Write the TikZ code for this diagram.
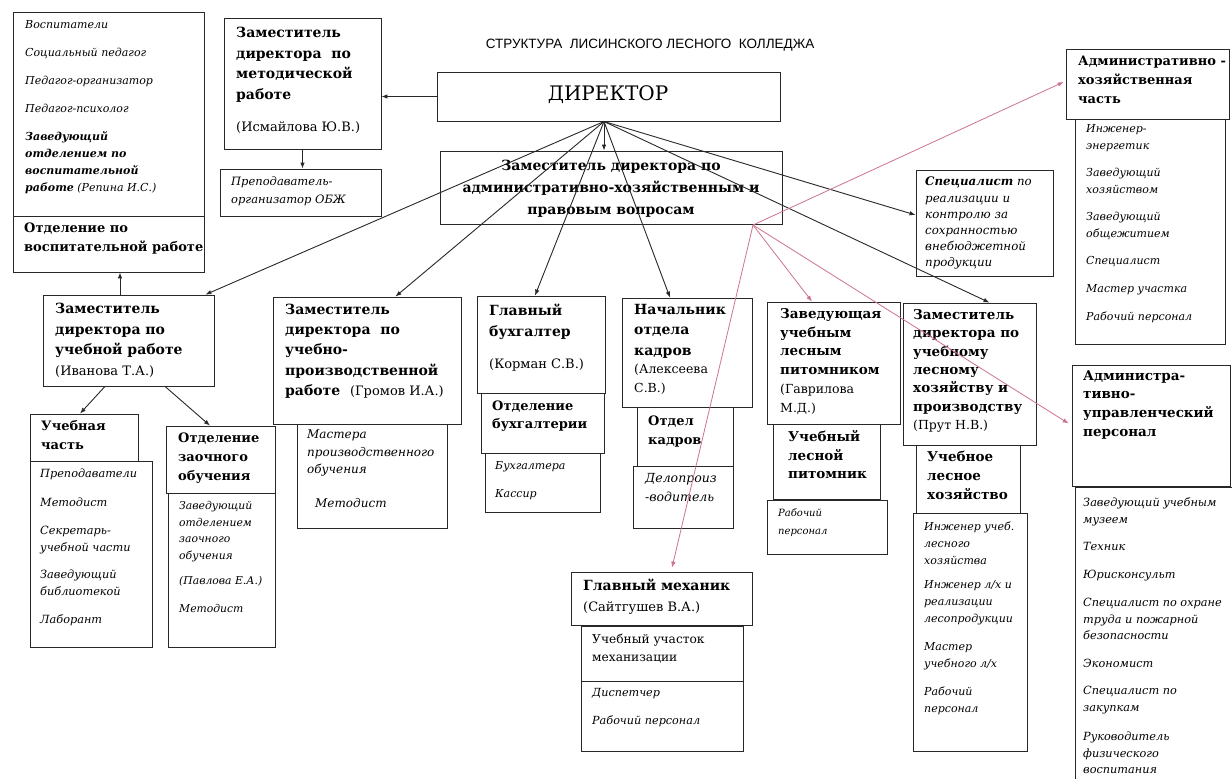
\documentclass[tikz,border=0pt]{standalone}
\usepackage{fontspec}
\setmainfont{DejaVu Serif}
\newfontfamily\ttlfont{Liberation Sans}
\usetikzlibrary{arrows.meta,calc,fit}
\definecolor{ln}{RGB}{40,40,40}
\definecolor{pk}{RGB}{205,115,140}
\newcommand\nmtext[1]{{\fontsize{13}{20}\selectfont\mdseries #1}}
\newcommand\nmsmall[1]{{\fontsize{12.5}{18.5}\selectfont\mdseries #1}}
\begin{document}
\begin{tikzpicture}[x=1pt,y=-1pt,
  box/.style={draw=ln, line width=0.8pt, fill=white, inner sep=0pt},
  tx/.style={anchor=north west, align=left, inner sep=0pt},
  hb/.style={font=\fontsize{14}{20.5}\selectfont\bfseries},
  hbs/.style={font=\fontsize{13.5}{18.8}\selectfont\bfseries},
  hbm/.style={font=\fontsize{13}{19}\selectfont\bfseries},
  it/.style={font=\fontsize{11}{17}\selectfont\itshape},
  arr/.style={draw=ln, line width=0.9pt, -{Latex[length=6pt,width=4.5pt]}},
  parr/.style={draw=pk, line width=0.8pt, -{Latex[length=6pt,width=4.5pt]}}]
\useasboundingbox[fill=white] (0,0) rectangle (1232,779);

% title
\node[font=\ttlfont\fontsize{13.5}{16}\selectfont, inner sep=0pt] (title) at (650,45) {СТРУКТУРА\ \ ЛИСИНСКОГО ЛЕСНОГО\ \ КОЛЛЕДЖА};

% left top
\node[box, fit={(13,12)(204,216)}] (vosp) {};
\node[tx, it] (vosp_t) at (25,20.5) {Воспитатели\\[11pt]Социальный педагог\\[11pt]Педагог-организатор\\[11pt]Педагог-психолог\\[11pt]\textbf{Заведующий}\\\textbf{отделением по}\\\textbf{воспитательной}\\\textbf{работе} (Репина И.С.)};
\node[box, fit={(13,216)(204,272)}] (vosp_dept) {};
\node[tx, hbm] (vosp_dept_t) at (24,222.5) {Отделение по\\воспитательной работе};

% methodical deputy
\node[box, fit={(224,18)(381,149)}] (metod) {};
\node[tx, hb] (metod_t) at (236,27) {Заместитель\\директора\ \ по\\методической\\работе\\[12pt]\nmtext{(Исмайлова Ю.В.)}};
\node[box, fit={(220,169)(381,216)}] (obzh) {};
\node[tx, font=\fontsize{11.5}{18}\selectfont\itshape] (obzh_t) at (231,176.5) {Преподаватель-\\организатор ОБЖ};

% director
\node[box, fit={(437,72)(780,121)}] (director) {};
\node[font=\fontsize{20}{24}\selectfont, inner sep=0pt] (director_t) at (608,95) {ДИРЕКТОР};
\node[box, fit={(440,151)(782,224)}] (admin) {};
\node[align=center, inner sep=0pt, font=\fontsize{14}{22}\selectfont\bfseries] (admin_t) at (611,189) {Заместитель директора по\\административно-хозяйственным и\\правовым вопросам};

% specialist
\node[box, fit={(916,170)(1053,276)}] (spec) {};
\node[tx, font=\fontsize{11.8}{16.2}\selectfont\itshape] (spec_t) at (925,177) {\textbf{Специалист} по\\реализации и\\контролю за\\сохранностью\\внебюджетной\\продукции};

% AHCh
\node[box, fit={(1066,49)(1229,119)}] (ahch) {};
\node[tx, hbm] (ahch_t) at (1078,55.5) {Административно -\\хозяйственная\\часть};
\node[box, fit={(1075,119)(1225,344)}] (ahch_list) {};
\node[tx, font=\fontsize{11}{17}\selectfont\itshape] (ahch_list_t) at (1086,124.5) {Инженер-\\энергетик\\[10pt]Заведующий\\хозяйством\\[10pt]Заведующий\\общежитием\\[10pt]Специалист\\[11pt]Мастер участка\\[11pt]Рабочий персонал};

% Ivanova
\node[box, fit={(43,295)(214,386)}] (ivanova) {};
\node[tx, hb] (ivanova_t) at (55,303) {Заместитель\\директора по\\учебной работе\\\nmtext{(Иванова Т.А.)}};
\node[box, fit={(30,414)(138,461)}] (uch_head) {};
\node[tx, hbm] (uch_head_t) at (41,420.5) {Учебная\\часть};
\node[box, fit={(30,461)(152,647)}] (uch_list) {};
\node[tx, font=\fontsize{11.3}{17}\selectfont\itshape] (uch_list_t) at (40,469) {Преподаватели\\[12pt]Методист\\[11pt]Секретарь-\\учебной части\\[10pt]Заведующий\\библиотекой\\[11pt]Лаборант};
\node[box, fit={(166,426)(275,493)}] (zaoch_head) {};
\node[tx, hbm] (zaoch_head_t) at (178,432.5) {Отделение\\заочного\\обучения};
\node[box, fit={(168,493)(275,647)}] (zaoch_list) {};
\node[tx, font=\fontsize{10.8}{16.5}\selectfont\itshape] (zaoch_list_t) at (179,501.5) {Заведующий\\отделением\\заочного\\обучения\\[9pt](Павлова Е.А.)\\[11pt]Методист};

% Gromov
\node[box, fit={(273,297)(461,424)}] (gromov) {};
\node[tx, font=\fontsize{14}{20.2}\selectfont\bfseries] (gromov_t) at (285,304) {Заместитель\\директора\ \ по\\учебно-\\производственной\\работе\ \ \nmtext{(Громов И.А.)}};
\node[box, fit={(297,424)(447,528)}] (gromov_list) {};
\node[tx, font=\fontsize{12}{17.5}\selectfont\itshape] (gromov_list_t) at (307,430) {Мастера\\производственного\\обучения\\[16pt]\hspace*{8pt}Методист};

% accountant
\node[box, fit={(477,296)(605,393)}] (buh) {};
\node[tx, hb] (buh_t) at (489,304) {Главный\\бухгалтер\\[12pt]\nmtext{(Корман С.В.)}};
\node[box, fit={(481,393)(604,453)}] (buh_dept) {};
\node[tx, font=\fontsize{13}{18}\selectfont\bfseries] (buh_dept_t) at (492,400.5) {Отделение\\бухгалтерии};
\node[box, fit={(485,453)(600,512)}] (buh_list) {};
\node[tx, font=\fontsize{11}{28}\selectfont\itshape] (buh_list_t) at (495,461.5) {Бухгалтера\\Кассир};

% HR
\node[box, fit={(622,298)(752,407)}] (kadry) {};
\node[tx, font=\fontsize{14}{20.5}\selectfont\bfseries] (kadry_t) at (634,304) {Начальник\\отдела\\кадров\\[-2pt]\nmsmall{(Алексеева}\\[-2pt]\nmsmall{С.В.)}};
\node[box, fit={(637,407)(733,466)}] (kadry_dept) {};
\node[tx, hbm] (kadry_dept_t) at (648,415.5) {Отдел\\кадров};
\node[box, fit={(633,466)(733,528)}] (kadry_list) {};
\node[tx, font=\fontsize{12.5}{19}\selectfont\itshape] (kadry_list_t) at (645,473.5) {Делопроиз\\-водитель};

% nursery
\node[box, fit={(767,302)(900,424)}] (pitom) {};
\node[tx, hbs] (pitom_t) at (780,308) {Заведующая\\учебным\\лесным\\питомником\\\nmsmall{(Гаврилова}\\\nmsmall{М.Д.)}};
\node[box, fit={(773,424)(880,499)}] (pitom_dept) {};
\node[tx, hbs] (pitom_dept_t) at (788,430) {Учебный\\лесной\\питомник};
\node[box, fit={(767,500)(887,554)}] (pitom_list) {};
\node[tx, font=\fontsize{10}{18}\selectfont\itshape] (pitom_list_t) at (778,508) {Рабочий\\персонал};

% forestry deputy
\node[box, fit={(903,303)(1036,445)}] (prut) {};
\node[tx, font=\fontsize{13.5}{18.4}\selectfont\bfseries] (prut_t) at (913,309) {Заместитель\\директора по\\учебному\\лесному\\хозяйству и\\производству\\\nmsmall{(Прут Н.В.)}};
\node[box, fit={(916,445)(1020,513)}] (lh_dept) {};
\node[tx, hbs] (lh_dept_t) at (927,451) {Учебное\\лесное\\хозяйство};
\node[box, fit={(913,513)(1027,751)}] (lh_list) {};
\node[tx, font=\fontsize{11}{17}\selectfont\itshape] (lh_list_t) at (924,521.5) {Инженер учеб.\\лесного\\хозяйства\\[7pt]Инженер л/х и\\реализации\\лесопродукции\\[11pt]Мастер\\учебного л/х\\[11pt]Рабочий\\персонал};

% administrative-management staff
\node[box, fit={(1072,365)(1230,486)}] (aup) {};
\node[tx, hbs] (aup_t) at (1083,370) {Администра-\\тивно-\\управленческий\\персонал};
\node[inner sep=0pt, fit={(1076,488)(1232,779)}] (aup_list) {};
\draw[draw=ln, line width=0.8pt] (aup_list.south west) -- (aup_list.north west) -- (aup_list.north east);
\node[tx, font=\fontsize{11.3}{16.5}\selectfont\itshape] (aup_list_t) at (1083,497.5) {Заведующий учебным\\музеем\\[11pt]Техник\\[11pt]Юрисконсульт\\[12pt]Специалист по охране\\труда и пожарной\\безопасности\\[11pt]Экономист\\[11pt]Специалист по\\закупкам\\[13pt]Руководитель\\физического\\воспитания};

% chief mechanic
\node[box, fit={(571,572)(752,625)}] (meh) {};
\node[tx, font=\fontsize{14}{21}\selectfont\bfseries] (meh_t) at (583,579) {Главный механик\\\nmtext{(Сайтгушев В.А.)}};
\node[box, fit={(581,626)(743,751)}] (meh_list) {};
\draw[draw=ln, line width=0.8pt] ($(meh_list.north west)+(0,56)$) -- ($(meh_list.north east)+(0,56)$);
\node[tx, font=\fontsize{12.2}{18}\selectfont] (meh_list_a) at (592,634) {Учебный участок\\механизации};
\node[tx, font=\fontsize{11.2}{28}\selectfont\itshape] (meh_list_b) at (592,688) {Диспетчер\\Рабочий персонал};

% connectors (black)
\coordinate (hub) at (604,121.5);
\draw[arr] (director.west) -- (director.west -| metod.east);
\draw[arr] (metod.south) -- (metod.south |- obzh.north);
\draw[arr] (hub) -- (hub |- admin.north);
\draw[arr] (hub) -- ($(ivanova.north east)+(-9,0)$);
\draw[arr] (hub) -- ($(gromov.north east)+(-66,0)$);
\draw[arr] (hub) -- ($(buh.north)+(-6,0)$);
\draw[arr] (hub) -- ($(kadry.north)+(-17,0)$);
\draw[arr] (hub) -- ($(spec.west)+(0,-8)$);
\draw[arr] (hub) -- ($(prut.north)+(20,0)$);
\draw[arr] ($(ivanova.north)+(-8.5,0)$) -- ($(vosp_dept.south)+(11.5,0)$);
\draw[arr] ($(ivanova.south)+(-23.5,0)$) -- ($(uch_head.north)+(-4,0)$);
\draw[arr] ($(ivanova.south)+(36.5,0)$) -- ($(zaoch_head.north)+(-10.5,0)$);

% connectors (pink)
\coordinate (phub) at (753,225);
\draw[parr] (phub) -- ($(ahch.west)+(-2,-2)$);
\draw[parr] (phub) -- ($(meh.north)+(10.5,-4)$);
\draw[parr] (phub) -- ($(pitom.north)+(-21.5,0)$);
\draw[parr] (phub) -- ($(aup.west)+(-3,-2)$);
\end{tikzpicture}
\end{document}
